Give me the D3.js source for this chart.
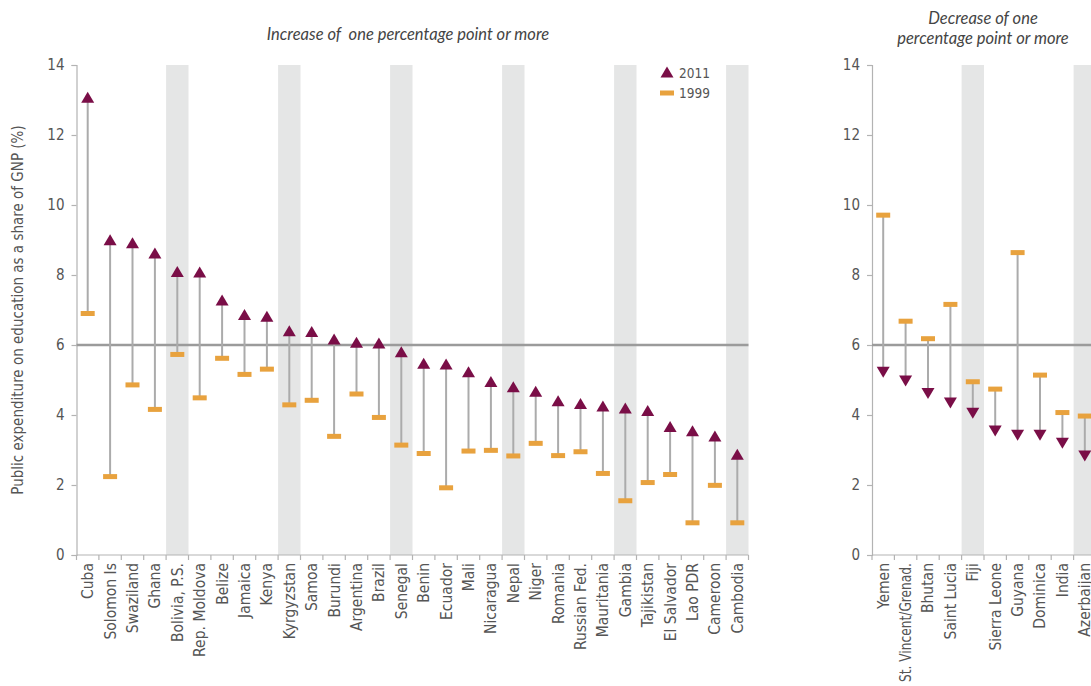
<!DOCTYPE html>
<html><head><meta charset="utf-8">
<script src="https://cdn.jsdelivr.net/npm/d3@7"></script>
<style>
body{margin:0;background:#fff;}
svg{display:block;}
.lab{font-family:"Liberation Sans Narrow","DejaVu Sans Condensed",sans-serif;fill:#555;}
.ttl{font-family:"Lato","Open Sans",sans-serif;font-style:italic;fill:#444;white-space:pre;}
</style>
</head><body>
<svg id="c" width="1091" height="686"></svg>
<script>
// ---------- DATA ----------
const catsUp = ["Cuba","Solomon Is","Swaziland","Ghana","Bolivia, P.S.","Rep. Moldova","Belize","Jamaica","Kenya","Kyrgyzstan","Samoa","Burundi","Argentina","Brazil","Senegal","Benin","Ecuador","Mali","Nicaragua","Nepal","Niger","Romania","Russian Fed.","Mauritania","Gambia","Tajikistan","El Salvador","Lao PDR","Cameroon","Cambodia"];
const up2011 = [13.05,8.98,8.89,8.6,8.07,8.06,7.26,6.84,6.79,6.38,6.36,6.14,6.05,6.03,5.78,5.45,5.43,5.21,4.93,4.78,4.65,4.38,4.3,4.23,4.17,4.1,3.64,3.52,3.37,2.85];
const up1999 = [6.9,2.24,4.86,4.16,5.73,4.49,5.62,5.16,5.31,4.29,4.42,3.39,4.6,3.93,3.14,2.9,1.92,2.97,2.99,2.83,3.19,2.84,2.95,2.33,1.55,2.07,2.3,0.92,1.99,0.92];

const catsDown = ["Yemen","St. Vincent/Grenad.","Bhutan","Saint Lucia","Fiji","Sierra Leone","Guyana","Dominica","India","Azerbaijan"];
const down2011 = [5.25,5.0,4.64,4.37,4.08,3.57,3.45,3.45,3.22,2.86];
const down1999 = [9.71,6.68,6.18,7.16,4.95,4.74,8.64,5.14,4.07,3.97];

const yTicks = [0,2,4,6,8,10,12,14];
const refLevel = 6;
const legendItems = ["2011","1999"];

// ---------- STYLE ----------
const MAROON = "#7a0e47", ORANGE = "#e8a23e", STEM = "#ababab", SHADE = "#e5e6e6", AXIS = "#b3b3b3";

const svg = d3.select("#c");
const y = d3.scaleLinear().domain([0,14]).range([555,65]);

function panel(cats, v11, v99, x0, x1, dir){
  const g = svg.append("g");
  const x = d3.scaleBand().domain(cats).range([x0, x1]).paddingInner(0).paddingOuter(0);
  const bw = x.bandwidth();
  // shading
  g.selectAll("rect.sh").data(cats.filter((c,i)=>i%5===4)).join("rect")
    .attr("x", c=>x(c)).attr("width", bw)
    .attr("y", y(14)).attr("height", y(0)-y(14)).attr("fill", SHADE);
  // y axis
  const ya = g.append("g").attr("transform",`translate(${x0},0)`)
    .call(d3.axisLeft(y).tickValues(yTicks).tickSize(5).tickPadding(7).tickFormat(d3.format("d")));
  ya.selectAll("path,line").attr("stroke", AXIS).attr("stroke-width",1.2);
  ya.selectAll("text").attr("class","lab").style("font-size","15px").attr("fill","#585858");
  // x axis baseline + boundary ticks
  g.append("line").attr("x1",x0).attr("x2",x1).attr("y1",y(0)).attr("y2",y(0))
    .attr("stroke",AXIS).attr("stroke-width",1.2);
  const bounds = cats.map(c=>x(c)).concat([x1]);
  g.selectAll("line.bt").data(bounds).join("line")
    .attr("x1",d=>d).attr("x2",d=>d).attr("y1",y(0)).attr("y2",y(0)+5)
    .attr("stroke",AXIS).attr("stroke-width",1.2);
  // labels
  const xa = g.append("g").attr("transform",`translate(0,${y(0)})`)
    .call(d3.axisBottom(x).tickSize(0).tickPadding(0));
  xa.select(".domain").remove();
  xa.selectAll("text").attr("class","lab").style("font-size","15.5px").attr("fill","#585858")
    .attr("text-anchor","end").attr("transform","rotate(-90)")
    .attr("x",-8).attr("y",0).attr("dy","0.35em")
    .each(function(){
      const maxLen = 686 - (y(0)+8) - 4;
      if (this.getComputedTextLength() > maxLen) {
        d3.select(this).attr("textLength", maxLen).attr("lengthAdjust","spacingAndGlyphs");
      }
    });
  // reference line
  g.append("line").attr("x1",x0).attr("x2",x1).attr("y1",y(refLevel)).attr("y2",y(refLevel))
    .attr("stroke","#9b9b9b").attr("stroke-width",2.5);
  // stems
  g.selectAll("line.st").data(cats).join("line")
    .attr("x1",c=>x(c)+bw/2).attr("x2",c=>x(c)+bw/2)
    .attr("y1",(c,i)=>y(v99[i])).attr("y2",(c,i)=>y(v11[i]))
    .attr("stroke",STEM).attr("stroke-width",2);
  // 1999 bars
  g.selectAll("rect.b99").data(cats).join("rect")
    .attr("x",c=>x(c)+bw/2-7).attr("width",14)
    .attr("y",(c,i)=>y(v99[i])-2.5).attr("height",5).attr("fill",ORANGE);
  // 2011 triangles
  g.selectAll("path.t11").data(cats).join("path")
    .attr("d",(c,i)=>{
      const cx = x(c)+bw/2, cy = y(v11[i]);
      return dir>0
        ? `M${cx-6.5},${cy+4.5}L${cx+6.5},${cy+4.5}L${cx},${cy-6.5}Z`
        : `M${cx-6.5},${cy-4.5}L${cx+6.5},${cy-4.5}L${cx},${cy+6.5}Z`;
    })
    .attr("fill",MAROON);
  return x;
}

panel(catsUp, up2011, up1999, 76.5, 748.5, 1);
panel(catsDown, down2011, down1999, 872, 872+22.4*catsDown.length, -1);

// titles
svg.append("text").attr("class","ttl").attr("x",408).attr("y",40).attr("text-anchor","middle")
  .attr("xml:space","preserve")
  .style("font-size","16.5px").text("Increase of  one percentage point or more");
const t2 = svg.append("text").attr("class","ttl").attr("x",983).attr("text-anchor","middle").style("font-size","16.5px");
t2.append("tspan").attr("x",983).attr("y",24).text("Decrease of one");
t2.append("tspan").attr("x",983).attr("y",44).text("percentage point or more");

// y-axis title
svg.append("text").attr("class","lab").attr("transform","translate(23,310) rotate(-90)")
  .attr("text-anchor","middle").style("font-size","15px").attr("fill","#585858")
  .text("Public expenditure on education as a share of GNP (%)");

// legend
const lg = svg.append("g").attr("transform","translate(667,73)");
lg.append("path").attr("d","M-6.5,4.5L6.5,4.5L0,-6.5Z").attr("fill",MAROON);
lg.append("rect").attr("x",-7).attr("y",17.5).attr("width",14).attr("height",5).attr("fill",ORANGE);
lg.selectAll("text").data(legendItems).join("text").attr("class","lab")
  .attr("x",12).attr("y",(d,i)=>i*20).attr("dy","0.35em").style("font-size","13.5px").attr("fill","#585858")
  .text(d=>d);
</script>
</body></html>
